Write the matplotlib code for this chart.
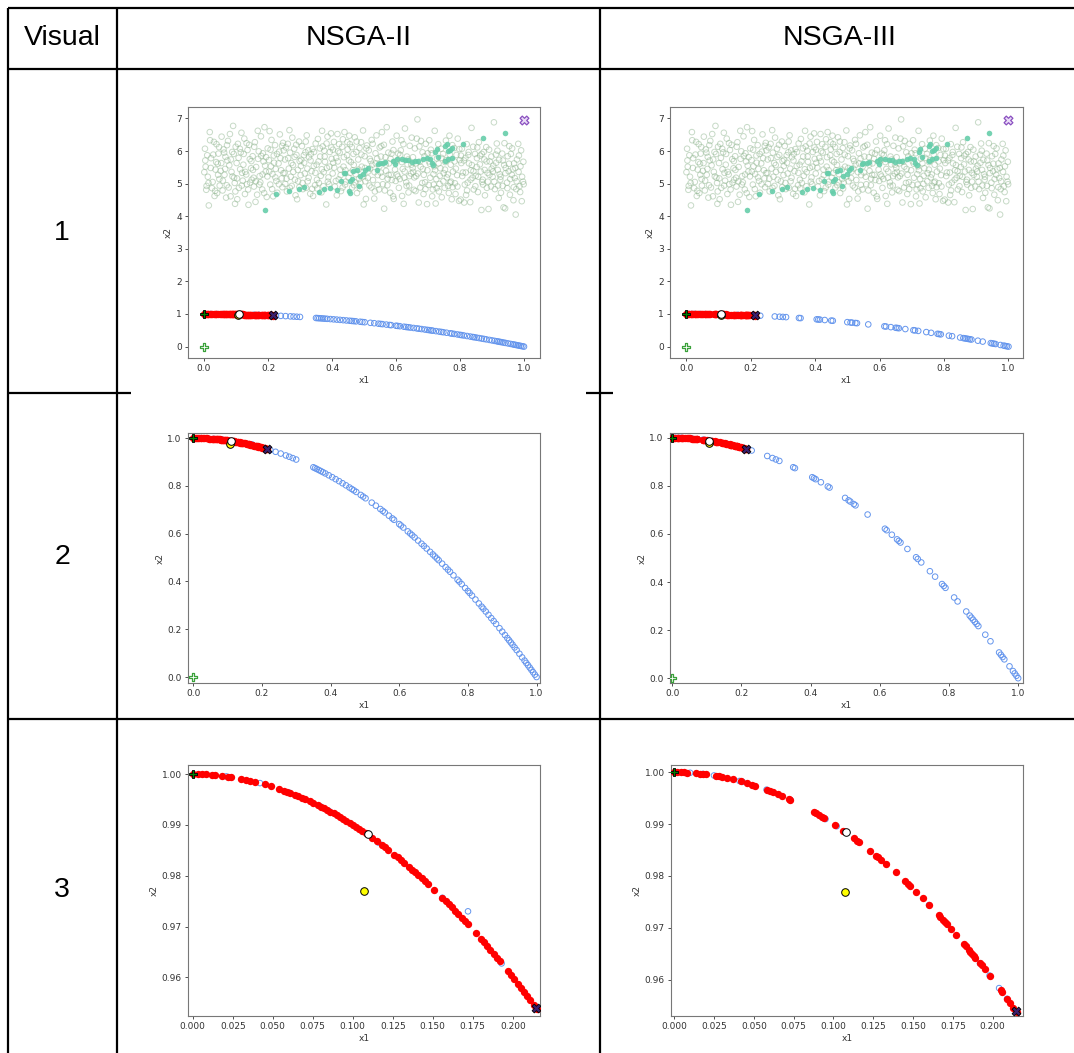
import numpy as np
import matplotlib.pyplot as plt
from matplotlib.lines import Line2D
from matplotlib.ticker import FormatStrFormatter

# ---- data ----
# shared cloud of candidate points (hollow green) in the row 1 panels
cloud_pts = [
    (0.003,6.07),(0.018,6.58),(0.005,5.52),(0.012,5.21),(0.008,4.93),(0.015,4.33),(0.022,5.78),(0.031,6.28),(0.027,5.05),(0.036,5.43),
    (0.041,4.71),(0.045,5.92),(0.039,6.21),(0.048,5.14),(0.010,5.87),(0.025,4.86),(0.043,5.61),(0.033,4.62),(0.001,5.35),(0.047,6.12),
    (0.052,5.39),(0.058,4.79),(0.061,6.05),(0.067,5.82),(0.071,4.95),(0.075,6.31),(0.079,5.56),(0.083,4.61),(0.088,5.97),(0.091,6.77),
    (0.094,5.18),(0.097,4.38),(0.055,6.44),(0.064,5.27),(0.073,5.71),(0.086,5.36),(0.099,6.13),(0.069,4.57),(0.081,6.52),(0.096,5.02),
    (0.102,5.63),(0.106,6.22),(0.109,4.87),(0.113,5.44),(0.117,6.56),(0.121,5.09),(0.124,5.91),(0.128,4.68),(0.132,5.28),(0.136,6.03),
    (0.139,4.35),(0.143,5.75),(0.147,5.47),(0.104,4.52),(0.115,5.96),(0.126,6.38),(0.134,4.98),(0.141,6.19),(0.149,5.12),(0.119,5.33),
    (0.152,5.84),(0.156,4.91),(0.159,6.27),(0.163,5.51),(0.166,4.66),(0.171,5.99),(0.174,5.23),(0.178,6.45),(0.182,4.82),(0.186,5.68),
    (0.189,6.73),(0.193,5.37),(0.196,4.59),(0.199,6.08),(0.155,5.18),(0.168,6.62),(0.176,5.04),(0.184,5.93),(0.191,5.55),(0.161,4.44),
    (0.203,5.72),(0.207,4.97),(0.211,6.34),(0.214,5.29),(0.218,5.86),(0.222,6.18),(0.226,5.08),(0.229,4.72),(0.233,5.62),(0.237,6.51),
    (0.241,5.41),(0.245,4.89),(0.249,6.02),(0.205,6.61),(0.216,4.61),(0.224,5.45),(0.235,5.98),(0.243,5.16),(0.209,5.53),(0.247,6.25),
    (0.252,5.33),(0.256,6.11),(0.259,4.76),(0.263,5.78),(0.267,6.64),(0.271,5.21),(0.274,4.93),(0.278,5.57),(0.282,6.07),(0.286,4.64),
    (0.289,5.88),(0.293,5.42),(0.297,6.29),(0.254,4.99),(0.265,5.46),(0.276,6.41),(0.284,5.12),(0.291,4.52),(0.299,5.69),(0.269,5.95),
    (0.302,5.26),(0.306,6.15),(0.309,4.83),(0.313,5.64),(0.317,5.96),(0.321,6.48),(0.324,5.07),(0.328,5.81),(0.332,4.69),(0.336,5.38),
    (0.339,6.06),(0.343,5.54),(0.347,4.95),(0.304,5.73),(0.315,5.31),(0.326,6.02),(0.334,5.91),(0.341,4.62),(0.349,6.23),(0.319,4.87),
    (0.352,5.58),(0.356,6.37),(0.359,5.02),(0.363,5.83),(0.367,4.73),(0.371,6.14),(0.374,5.35),(0.378,5.67),(0.382,4.36),(0.386,6.44),
    (0.389,5.19),(0.393,5.97),(0.397,6.54),(0.354,4.85),(0.365,5.24),(0.376,6.01),(0.384,5.48),(0.391,4.98),(0.399,5.76),(0.369,6.62),
    (0.402,5.31),(0.406,6.28),(0.409,4.91),(0.413,5.79),(0.417,6.52),(0.421,5.13),(0.424,5.95),(0.428,4.77),(0.432,6.13),(0.436,5.52),
    (0.439,6.58),(0.443,5.06),(0.447,5.87),(0.404,5.64),(0.415,4.64),(0.426,5.43),(0.434,6.36),(0.441,4.97),(0.449,6.05),(0.419,5.99),
    (0.452,5.18),(0.456,6.21),(0.459,5.66),(0.463,4.88),(0.467,5.91),(0.471,6.42),(0.474,5.29),(0.478,4.71),(0.482,5.74),(0.486,6.09),
    (0.489,5.03),(0.493,5.52),(0.497,6.63),(0.454,6.47),(0.465,5.41),(0.476,5.97),(0.484,5.14),(0.491,6.27),(0.499,4.36),(0.469,4.95),
    (0.502,5.84),(0.506,4.53),(0.509,6.17),(0.513,5.37),(0.517,4.94),(0.521,5.69),(0.524,6.34),(0.528,5.11),(0.532,4.54),(0.536,5.93),
    (0.539,6.48),(0.543,5.26),(0.547,4.82),(0.504,5.07),(0.515,6.02),(0.526,5.58),(0.534,4.76),(0.541,5.77),(0.549,6.11),(0.519,5.46),
    (0.552,5.34),(0.556,6.58),(0.559,4.98),(0.563,4.23),(0.567,5.81),(0.571,6.73),(0.574,5.15),(0.578,5.62),(0.582,4.72),(0.586,5.92),
    (0.589,6.29),(0.593,4.53),(0.597,5.43),(0.554,6.15),(0.565,4.79),(0.576,5.95),(0.584,5.27),(0.591,4.61),(0.599,5.08),(0.569,5.39),
    (0.602,6.47),(0.606,5.22),(0.609,4.87),(0.613,5.88),(0.617,6.33),(0.621,5.45),(0.624,4.38),(0.628,6.69),(0.632,5.04),(0.636,5.59),
    (0.639,4.73),(0.643,6.16),(0.647,5.31),(0.604,5.71),(0.615,6.02),(0.626,5.18),(0.634,5.83),(0.641,4.94),(0.649,6.41),(0.619,4.62),
    (0.652,5.48),(0.656,4.81),(0.659,6.08),(0.663,5.23),(0.667,6.97),(0.671,4.42),(0.674,5.67),(0.678,6.31),(0.682,5.02),(0.686,4.68),
    (0.689,5.84),(0.693,6.22),(0.697,4.37),(0.654,5.36),(0.665,6.38),(0.676,4.88),(0.684,5.45),(0.691,5.04),(0.699,5.93),(0.661,4.77),
    (0.702,4.96),(0.706,5.61),(0.709,6.04),(0.713,4.61),(0.717,5.29),(0.721,6.62),(0.724,4.39),(0.728,5.77),(0.732,6.21),(0.736,4.99),
    (0.739,5.47),(0.743,4.58),(0.747,5.91),(0.704,6.33),(0.715,4.82),(0.726,5.14),(0.734,4.76),(0.741,6.07),(0.749,5.32),(0.719,5.53),
    (0.752,4.87),(0.756,6.32),(0.759,5.19),(0.763,4.93),(0.767,6.47),(0.771,5.58),(0.774,4.52),(0.778,5.37),(0.782,6.09),(0.786,4.68),
    (0.789,5.88),(0.793,6.38),(0.797,4.47),(0.754,5.66),(0.765,4.71),(0.776,6.18),(0.784,5.01),(0.791,5.26),(0.799,5.72),(0.769,5.03),
    (0.802,4.51),(0.806,6.07),(0.809,5.34),(0.813,4.42),(0.817,5.79),(0.821,6.21),(0.824,5.03),(0.828,5.62),(0.832,4.43),(0.836,6.71),
    (0.839,5.18),(0.843,4.82),(0.847,5.91),(0.804,5.63),(0.815,4.97),(0.826,5.88),(0.834,5.41),(0.841,6.13),(0.849,5.24),(0.819,4.65),
    (0.852,5.51),(0.856,4.74),(0.859,6.27),(0.863,5.86),(0.867,4.19),(0.871,5.12),(0.874,5.97),(0.878,4.64),(0.882,6.12),(0.886,5.33),
    (0.889,4.22),(0.893,5.68),(0.897,4.91),(0.854,6.11),(0.865,5.37),(0.876,5.74),(0.884,4.87),(0.891,6.04),(0.899,5.46),(0.869,5.05),
    (0.902,5.21),(0.906,6.88),(0.909,4.83),(0.913,5.64),(0.917,6.01),(0.921,4.56),(0.924,5.29),(0.928,4.72),(0.932,5.92),(0.936,4.27),
    (0.939,6.24),(0.943,5.48),(0.947,5.03),(0.904,5.55),(0.915,6.23),(0.926,5.12),(0.934,5.71),(0.941,4.24),(0.949,5.84),(0.919,4.94),
    (0.952,5.38),(0.956,4.66),(0.959,5.91),(0.963,6.08),(0.967,4.49),(0.971,5.17),(0.974,4.05),(0.978,5.74),(0.982,6.22),(0.986,4.92),
    (0.989,5.53),(0.993,4.46),(0.997,5.06),(0.954,6.15),(0.965,5.44),(0.976,4.83),(0.984,5.86),(0.991,6.02),(0.999,4.98),(0.969,5.62),
    # denser core of the cloud
    (0.004,5.71),(0.014,5.02),(0.021,5.48),(0.029,5.89),(0.035,4.78),(0.044,5.27),(0.007,4.81),(0.019,6.33),(0.038,5.66),(0.049,4.94),
    (0.054,5.63),(0.059,5.09),(0.066,5.45),(0.072,6.18),(0.077,4.88),(0.084,5.74),(0.089,5.22),(0.093,5.91),(0.098,4.76),(0.063,5.95),
    (0.103,5.16),(0.108,5.79),(0.112,6.07),(0.118,4.94),(0.123,5.58),(0.129,5.36),(0.133,6.24),(0.138,4.82),(0.144,5.03),(0.148,5.69),
    (0.153,5.42),(0.157,6.13),(0.162,5.07),(0.169,5.76),(0.173,4.97),(0.179,5.85),(0.183,5.28),(0.188,4.71),(0.194,5.81),(0.198,5.22),
    (0.204,5.37),(0.208,6.04),(0.213,4.83),(0.219,5.64),(0.223,5.19),(0.228,5.91),(0.234,4.98),(0.239,5.78),(0.244,6.16),(0.248,5.32),
    (0.253,5.74),(0.258,5.15),(0.262,6.22),(0.268,4.87),(0.273,5.63),(0.279,5.36),(0.283,5.82),(0.288,6.19),(0.294,5.07),(0.298,4.89),
    (0.303,5.54),(0.308,5.02),(0.312,5.87),(0.318,6.29),(0.323,5.46),(0.327,5.18),(0.333,5.71),(0.338,4.84),(0.344,5.97),(0.348,5.33),
    (0.353,5.12),(0.358,5.68),(0.362,6.08),(0.368,5.44),(0.373,4.92),(0.377,5.83),(0.383,6.23),(0.387,5.06),(0.392,5.52),(0.398,6.11),
    (0.403,6.04),(0.407,5.49),(0.412,5.08),(0.418,5.68),(0.422,6.21),(0.427,5.26),(0.433,4.88),(0.437,5.81),(0.442,5.41),(0.448,6.27),
    (0.453,5.71),(0.457,5.33),(0.462,6.12),(0.468,5.57),(0.473,5.04),(0.477,6.29),(0.483,5.43),(0.487,4.85),(0.492,5.89),(0.498,5.22),
    (0.503,5.48),(0.507,6.08),(0.512,5.17),(0.518,5.76),(0.523,4.88),(0.527,6.22),(0.533,5.35),(0.537,5.62),(0.542,4.96),(0.548,5.53),
    (0.553,5.83),(0.557,5.21),(0.562,6.19),(0.568,5.58),(0.573,4.95),(0.577,5.27),(0.583,5.76),(0.587,5.11),(0.592,6.03),(0.598,5.67),
    (0.603,5.28),(0.607,5.92),(0.612,5.14),(0.618,5.66),(0.623,6.21),(0.627,5.37),(0.633,4.93),(0.638,5.74),(0.642,5.23),(0.648,5.58),
    (0.653,5.81),(0.657,5.19),(0.662,5.62),(0.668,5.31),(0.673,6.14),(0.677,5.52),(0.683,5.96),(0.687,5.27),(0.692,4.83),(0.698,5.41),
    (0.703,5.68),(0.707,5.18),(0.712,5.93),(0.718,4.97),(0.722,5.41),(0.727,4.86),(0.733,5.62),(0.737,5.24),(0.742,5.79),(0.748,5.07),
    (0.753,5.43),(0.757,5.72),(0.762,5.28),(0.768,5.89),(0.772,5.06),(0.777,4.89),(0.783,5.68),(0.787,5.46),(0.792,4.91),(0.798,6.06),
    (0.803,5.86),(0.807,5.23),(0.812,5.71),(0.818,5.34),(0.822,4.79),(0.827,5.97),(0.833,5.12),(0.837,5.57),(0.842,5.38),(0.848,4.92),
    (0.853,5.78),(0.857,5.21),(0.862,5.59),(0.868,5.91),(0.872,4.97),(0.877,5.42),(0.883,5.68),(0.887,5.06),(0.892,5.27),(0.898,5.83),
    (0.903,5.37),(0.907,5.06),(0.912,5.89),(0.918,5.42),(0.922,5.73),(0.927,5.21),(0.933,4.93),(0.938,5.57),(0.942,5.32),(0.948,4.86),
    (0.953,5.61),(0.957,5.14),(0.962,5.27),(0.968,4.89),(0.973,5.48),(0.977,5.07),(0.983,5.36),(0.988,4.74),(0.994,5.21),(0.998,5.67),
]

# highlighted (filled aquamarine) points in row 1
aqua_pts = [
    (0.190,4.19),(0.226,4.69),(0.266,4.77),(0.296,4.84),(0.312,4.90),(0.358,4.73),(0.374,4.82),(0.395,4.87),(0.416,4.80),
    (0.429,5.08),(0.436,5.31),(0.441,5.33),(0.452,4.77),(0.457,4.70),(0.457,5.08),(0.462,5.15),(0.467,5.38),(0.478,5.43),
    (0.483,4.94),(0.488,5.23),(0.498,5.28),(0.504,5.41),(0.511,5.49),(0.540,5.43),(0.545,5.59),(0.550,5.62),(0.560,5.62),
    (0.566,5.66),(0.592,5.69),(0.597,5.59),(0.602,5.74),(0.618,5.74),(0.628,5.72),(0.639,5.72),(0.649,5.66),(0.659,5.69),
    (0.670,5.69),(0.685,5.76),(0.696,5.79),(0.706,5.74),(0.711,5.64),(0.716,5.56),(0.721,5.97),(0.727,6.05),(0.732,5.82),
    (0.753,6.15),(0.758,6.23),(0.763,6.00),(0.768,6.03),(0.774,6.10),(0.753,5.69),(0.763,5.74),(0.774,5.80),(0.808,6.20),
    (0.872,6.39),(0.941,6.54),
]

# NSGA-II: hollow blue points (whole population front) and red points (selected region)
nsga2_blue_x = [0.021,0.042,0.060,0.080,0.085,0.116,0.156,0.172,0.193,0.225,0.240,0.255,0.270,0.280,0.290,0.300,
                0.350,0.355,0.360,0.366,0.372,0.378,0.385,0.395,0.405,0.415,0.425,0.435,0.445,0.455,0.462,0.468,
                0.475,0.488,0.495,0.502,0.520,0.532,0.545,0.552,0.558,0.570,0.580,0.585,0.600,0.605,0.612,0.625,
                0.632,0.638,0.645,0.655,0.665,0.672,0.680,0.690,0.698,0.704,0.710,0.715,0.725,0.735,0.742,0.748,
                0.758,0.770,0.775,0.782,0.792,0.800,0.805,0.812,0.822,0.832,0.840,0.845,0.852,0.860,0.868,0.875,
                0.882,0.892,0.900,0.908,0.915,0.920,0.925,0.930,0.936,0.942,0.950,0.958,0.965,0.970,0.975,0.980,
                0.985,0.990,0.995,1.000]
nsga2_blue_y = [0.99956,0.99824,0.99640,0.99360,0.99278,0.98654,0.97566,0.9730,0.96275,0.9494,0.9424,0.9350,0.9271,0.9216,0.9159,0.9100,
                0.8775,0.8740,0.8704,0.8660,0.8616,0.8571,0.8518,0.8440,0.8360,0.8278,0.8194,0.8108,0.8020,0.7930,0.7866,0.7810,
                0.7744,0.7619,0.7550,0.7480,0.7296,0.7170,0.7030,0.6953,0.6886,0.6751,0.6636,0.6578,0.6400,0.6340,0.6255,0.6094,
                0.6006,0.5930,0.5840,0.5710,0.5578,0.5484,0.5376,0.5239,0.5128,0.5044,0.4959,0.4888,0.4744,0.4598,0.4494,0.4405,
                0.4254,0.4071,0.3994,0.3885,0.3727,0.3600,0.3520,0.3407,0.3243,0.3078,0.2944,0.2860,0.2741,0.2604,0.2466,0.2344,
                0.2221,0.2043,0.1900,0.1755,0.1628,0.1536,0.1444,0.1351,0.1239,0.1126,0.0975,0.0822,0.0688,0.0591,0.0494,0.0396,
                0.0298,0.0199,0.0100,0.0000]
nsga2_red_x = [0.000,0.003,0.006,0.008,0.012,0.014,0.018,0.022,0.024,0.030,0.033,0.036,0.039,0.045,0.049,0.054,0.057,
               0.059,0.061,0.064,0.066,0.068,0.070,0.073,0.075,0.078,0.080,0.082,0.084,0.086,0.088,0.090,0.092,0.094,
               0.096,0.098,0.100,0.102,0.104,0.106,0.108,0.112,0.115,0.118,0.120,0.122,0.126,0.128,0.130,0.132,0.135,
               0.137,0.139,0.141,0.143,0.145,0.147,0.151,0.156,0.158,0.160,0.162,0.164,0.166,0.168,0.170,0.172,0.177,
               0.180,0.182,0.184,0.186,0.188,0.190,0.192,0.197,0.199,0.201,0.203,0.205,0.207,0.209,0.211,0.213,0.215]
nsga2_red_y = [1.00000,0.99999,0.99996,0.99994,0.99986,0.99980,0.99968,0.99952,0.99942,0.99910,0.99891,0.99870,0.99848,
               0.99798,0.99760,0.99708,0.99675,0.99652,0.99628,0.99590,0.99564,0.99538,0.99510,0.99467,0.99438,0.99392,
               0.99360,0.99328,0.99294,0.99260,0.99226,0.99190,0.99154,0.99116,0.99078,0.99040,0.99000,0.98960,0.98918,
               0.98876,0.98834,0.98746,0.98678,0.98608,0.98560,0.98512,0.98412,0.98362,0.98310,0.98258,0.98178,0.98123,
               0.98068,0.98012,0.97955,0.97898,0.97839,0.97720,0.97566,0.97504,0.97440,0.97376,0.97310,0.97244,0.97178,
               0.97110,0.97042,0.96867,0.96760,0.96688,0.96614,0.96540,0.96466,0.96390,0.96314,0.96119,0.96040,0.95960,
               0.95879,0.95798,0.95715,0.95632,0.95548,0.95463,0.95378]

# NSGA-III
nsga3_blue_x = [0.010,0.018,0.025,0.028,0.041,0.043,0.058,0.073,0.089,0.095,0.102,0.116,0.160,0.192,0.198,0.204,0.209,
                0.230,0.275,0.290,0.300,0.310,0.350,0.355,0.405,0.410,0.415,0.430,0.450,0.455,0.500,0.510,0.515,0.525,
                0.530,0.565,0.615,0.620,0.635,0.650,0.655,0.660,0.680,0.705,0.710,0.720,0.745,0.760,0.780,0.785,0.790,
                0.815,0.825,0.850,0.860,0.865,0.870,0.875,0.880,0.885,0.905,0.920,0.945,0.950,0.955,0.960,0.975,0.985,
                0.990,0.995,1.000]
nsga3_blue_y = [0.99990,0.99968,0.99938,0.99922,0.99832,0.99815,0.99664,0.99467,0.99208,0.99098,0.98960,0.98654,0.97440,
                0.96314,0.96080,0.95838,0.95632,0.9471,0.9244,0.9159,0.9100,0.9039,0.8775,0.8740,0.8360,0.8319,0.8278,
                0.8151,0.7975,0.7930,0.7500,0.7399,0.7348,0.7244,0.7191,0.6808,0.6218,0.6156,0.5968,0.5775,0.5710,0.5644,
                0.5376,0.5030,0.4959,0.4816,0.4450,0.4224,0.3916,0.3838,0.3759,0.3358,0.3194,0.2775,0.2604,0.2518,0.2431,
                0.2344,0.2256,0.2168,0.1810,0.1536,0.1070,0.0975,0.0880,0.0784,0.0494,0.0298,0.0199,0.0100,0.0000]
nsga3_red_x = [0.000,0.002,0.004,0.006,0.008,0.014,0.016,0.018,0.020,0.026,0.028,0.030,0.033,0.037,0.042,0.046,0.049,
               0.051,0.058,0.060,0.062,0.065,0.068,0.072,0.073,0.088,0.089,0.091,0.093,0.094,0.101,0.106,0.113,0.115,
               0.116,0.123,0.127,0.128,0.130,0.133,0.139,0.145,0.147,0.148,0.152,0.156,0.160,0.166,0.167,0.169,0.170,
               0.171,0.174,0.177,0.182,0.183,0.185,0.186,0.187,0.188,0.189,0.192,0.193,0.195,0.198,0.205,0.206,0.209,
               0.211,0.213,0.215]
nsga3_red_y = [1.00000,1.00000,0.99998,0.99996,0.99994,0.99980,0.99974,0.99968,0.99960,0.99932,0.99922,0.99910,0.99891,
               0.99863,0.99824,0.99788,0.99760,0.99740,0.99664,0.99640,0.99616,0.99578,0.99538,0.99482,0.99467,0.99226,
               0.99208,0.99172,0.99135,0.99116,0.98980,0.98876,0.98723,0.98678,0.98654,0.98487,0.98387,0.98362,0.98310,
               0.98231,0.98068,0.97898,0.97839,0.97810,0.97690,0.97566,0.97440,0.97244,0.97211,0.97144,0.97110,0.97076,
               0.96972,0.96867,0.96688,0.96651,0.96578,0.96540,0.96503,0.96466,0.96428,0.96314,0.96275,0.96198,0.96080,
               0.95798,0.95756,0.95632,0.95548,0.95463,0.95378]

# special points
ideal_pt = (0.0, 0.0)
nadir_pt = (1.0, 6.95)
best_f1_pt = (0.0, 1.0)
best_f2_pt = (0.2148, 0.9539)
yellow_pt = (0.107, 0.977)
white_pt = {"NSGA-II": (0.1095, 0.9882), "NSGA-III": (0.108, 0.9884)}

col_titles = ["NSGA-II", "NSGA-III"]
row_labels = ["1", "2", "3"]

# ---- layout (pixel based) ----
W, H = 1074, 1053
fig = plt.figure(figsize=(W / 100, H / 100), dpi=100)


def frac_rect(l, t, r, b):
    return [l / W, 1 - b / H, (r - l) / W, (b - t) / H]


def hline(y, x0, x1, lw=1.6):
    fig.add_artist(Line2D([x0 / W, x1 / W], [1 - y / H, 1 - y / H], color="black", lw=lw,
                          transform=fig.transFigure, solid_capstyle="butt"))


def vline(x, y0, y1, lw=1.6):
    fig.add_artist(Line2D([x / W, x / W], [1 - y0 / H, 1 - y1 / H], color="black", lw=lw,
                          transform=fig.transFigure, solid_capstyle="butt"))


# table grid
hline(8, 8, W)
hline(69, 8, W)
hline(393, 8, 131)
hline(393, 586, 613)
hline(719, 8, W)
vline(8, 8, H)
vline(117, 8, H)
vline(600, 8, H)

tfont = dict(family=["Liberation Sans", "DejaVu Sans"], fontsize=20.5, ha="center", va="center")
fig.text(62 / W, 1 - 38 / H, "Visual", **tfont)
fig.text(359 / W, 1 - 38 / H, col_titles[0], **tfont)
fig.text(840 / W, 1 - 38 / H, col_titles[1], **tfont)
for lab, yc in zip(row_labels, [233, 557, 890]):
    fig.text(62 / W, 1 - yc / H, lab, **tfont)

cloud = np.array(cloud_pts)
aqua = np.array(aqua_pts)

panels = {
    "NSGA-II": dict(bx=nsga2_blue_x, by=nsga2_blue_y, rx=nsga2_red_x, ry=nsga2_red_y,
                    rects=[(188, 107, 540, 358), (188, 433, 540, 683), (188, 765, 540, 1016)],
                    lims=[((-0.05, 1.05), (-0.35, 7.35)), ((-0.015, 1.01), (-0.025, 1.021)),
                          ((-0.003, 0.217), (0.9524, 1.0018))]),
    "NSGA-III": dict(bx=nsga3_blue_x, by=nsga3_blue_y, rx=nsga3_red_x, ry=nsga3_red_y,
                     rects=[(670, 107, 1023, 358), (670, 433, 1023, 683), (671, 765, 1023, 1016)],
                     lims=[((-0.05, 1.045), (-0.35, 7.35)), ((-0.006, 1.014), (-0.02, 1.02)),
                           ((-0.002, 0.219), (0.9530, 1.0014))]),
}

for name, p in panels.items():
    for r in range(3):
        ax = fig.add_axes(frac_rect(*p["rects"][r]))
        ax.scatter(cloud[:, 0], cloud[:, 1], s=16, facecolors="none", edgecolors="#8fb58f",
                   linewidths=0.7, alpha=0.5, zorder=1)
        ax.scatter(aqua[:, 0], aqua[:, 1], s=16, color="mediumaquamarine", alpha=0.9, zorder=2, linewidths=0)
        ax.scatter(p["bx"], p["by"], s=16, facecolors="none", edgecolors="cornflowerblue",
                   linewidths=0.7, zorder=3)
        ax.scatter(p["rx"], p["ry"], s=28, color="red", linewidths=0, zorder=4)
        ax.scatter(*ideal_pt, marker="P", s=40, facecolors="white", edgecolors="#3aa13a", linewidths=0.9, zorder=5)
        ax.scatter(*nadir_pt, marker="X", s=40, facecolors="#eadcf7", edgecolors="#8a4fc0", linewidths=0.9, zorder=5)
        ax.scatter(*yellow_pt, s=30, facecolors="yellow", edgecolors="black", linewidths=0.7, zorder=6)
        ax.scatter(*white_pt[name], s=30, facecolors="white", edgecolors="black", linewidths=0.7, zorder=7)
        ax.scatter(*best_f1_pt, marker="P", s=40, facecolors="green", edgecolors="black", linewidths=0.6, zorder=8)
        ax.scatter(*best_f2_pt, marker="X", s=40, facecolors="#3b1f6e", edgecolors="black", linewidths=0.6, zorder=8)

        (x0, x1), (y0, y1) = p["lims"][r]
        ax.set_xlim(x0, x1)
        ax.set_ylim(y0, y1)
        if r == 2:
            ax.set_xticks([0.0, 0.025, 0.05, 0.075, 0.1, 0.125, 0.15, 0.175, 0.2])
            ax.set_yticks([0.96, 0.97, 0.98, 0.99, 1.0])
            ax.xaxis.set_major_formatter(FormatStrFormatter("%.3f"))
            ax.yaxis.set_major_formatter(FormatStrFormatter("%.2f"))
        else:
            ax.set_xticks([0.0, 0.2, 0.4, 0.6, 0.8, 1.0])
            ax.xaxis.set_major_formatter(FormatStrFormatter("%.1f"))
            if r == 0:
                ax.set_yticks(range(0, 8))
            else:
                ax.set_yticks([0.0, 0.2, 0.4, 0.6, 0.8, 1.0])
                ax.yaxis.set_major_formatter(FormatStrFormatter("%.1f"))
        ax.tick_params(labelsize=6.5, length=2.5, width=0.6, pad=2, colors="#333333")
        ax.set_xlabel("x1", fontsize=6.5, labelpad=2, color="#333333")
        ax.set_ylabel("x2", fontsize=6.5, labelpad=2, color="#333333")
        for sp in ax.spines.values():
            sp.set_color("#777777")
            sp.set_linewidth(0.8)

fig.savefig("out.png", dpi=100, facecolor="white")
